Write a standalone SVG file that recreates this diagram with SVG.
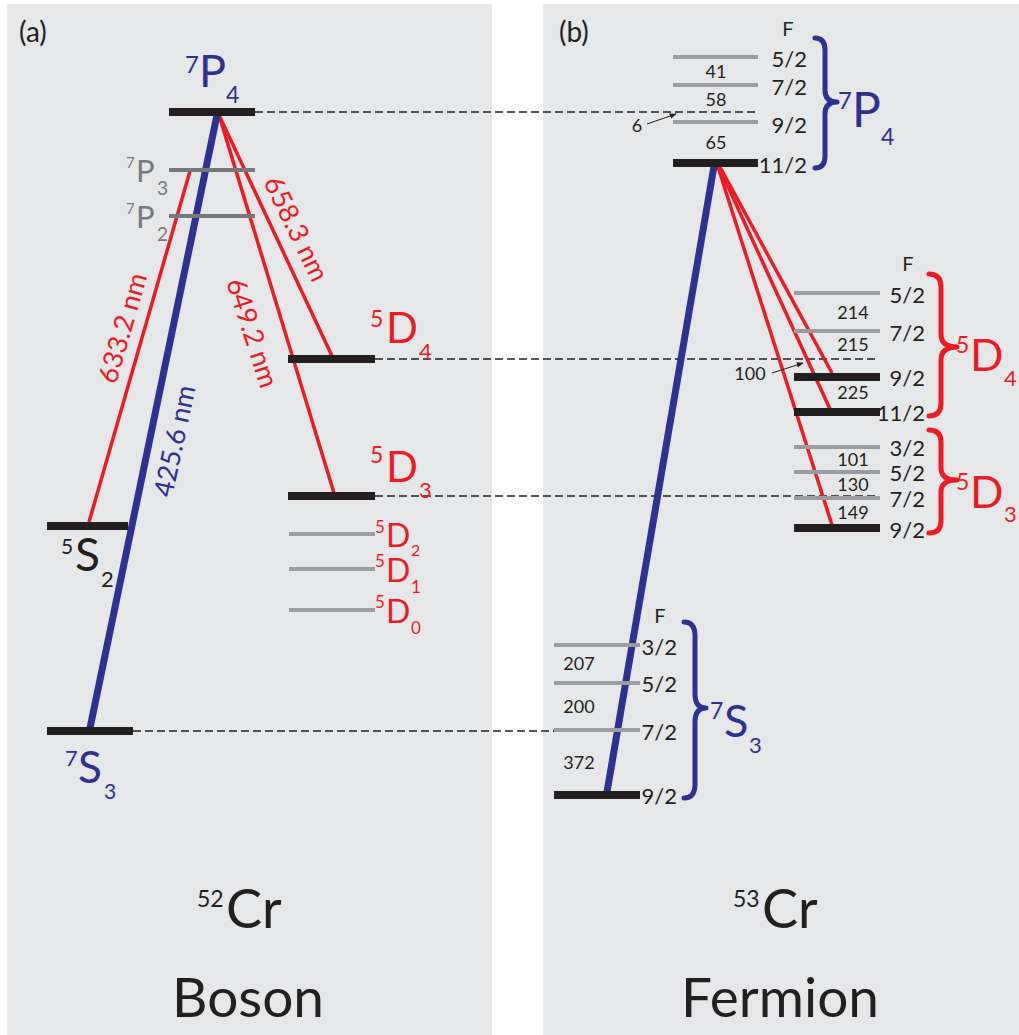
<svg xmlns="http://www.w3.org/2000/svg" width="1019" height="1035" viewBox="0 0 1019 1035">
<defs>
<style>
text{font-family:Lato,"Liberation Sans",sans-serif;}
.bk{fill:#231f20;}
.bl{fill:#2e3192;}
.rd{fill:#ed1c24;}
.gy{fill:#77787b;}
.lvl{fill:#231f20;}
.g1{stroke:#77787b;stroke-width:4;}
.g2{stroke:#9a9c9f;stroke-width:4;}
.dash{stroke:#231f20;stroke-width:1.3;stroke-dasharray:8,4;fill:none;}
.red{stroke:#ed1c24;stroke-width:3.5;fill:none;}
.blue{stroke:#2e3192;stroke-width:7;fill:none;}
.brb{stroke:#2e3192;stroke-width:5;fill:none;stroke-linecap:round;stroke-linejoin:round;}
.brr{stroke:#ed1c24;stroke-width:5;fill:none;stroke-linecap:round;stroke-linejoin:round;}
.ar{stroke:#231f20;stroke-width:1;fill:none;}
.n17{font-size:18px;fill:#231f20;text-anchor:middle;}
.f22{font-size:22px;fill:#231f20;text-anchor:end;}
.F{font-size:20px;fill:#231f20;text-anchor:middle;}
.wl{font-size:27px;text-anchor:middle;}
</style>
<marker id="ah" viewBox="0 0 10 10" refX="9" refY="5" markerWidth="7" markerHeight="7" orient="auto" markerUnits="userSpaceOnUse">
<path d="M0,1 L10,5 L0,9 Z" fill="#231f20"/>
</marker>
</defs>
<rect width="1019" height="1035" fill="#ffffff"/>
<rect x="7" y="4" width="485" height="1031" fill="#e6e7e8"/>
<rect x="543" y="4" width="476" height="1031" fill="#e6e7e8"/>

<text x="19" y="42" font-size="28" class="bk">(a)</text>
<text x="559" y="42" font-size="28" class="bk">(b)</text>

<g id="connectors">
<line class="dash" x1="255" y1="112" x2="758" y2="112"/>
<line class="dash" x1="375" y1="359" x2="877" y2="359"/>
<line class="dash" x1="375" y1="496" x2="877" y2="496"/>
<line class="dash" x1="133" y1="731" x2="554" y2="731"/>
<line class="red" x1="190" y1="171" x2="89" y2="522"/>
<line class="red" x1="219" y1="115" x2="332" y2="356"/>
<line class="red" x1="219" y1="115" x2="334" y2="493"/>
<line class="blue" x1="217" y1="115" x2="90" y2="728"/>
<line class="red" x1="720" y1="167" x2="832" y2="373"/>
<line class="red" x1="719" y1="167" x2="830" y2="409"/>
<line class="red" x1="718" y1="167" x2="832" y2="525"/>
<line class="blue" x1="714" y1="166" x2="607" y2="792"/>
<line class="ar" x1="647" y1="124" x2="676" y2="114" marker-end="url(#ah)"/>
<line class="ar" x1="772" y1="373" x2="803" y2="363" marker-end="url(#ah)"/>
</g>

<g id="wavelengths">
<text class="wl rd" transform="translate(123,328) rotate(-74)" y="9">633.2 nm</text>
<text class="wl bl" transform="translate(175,441) rotate(-78)" y="9">425.6 nm</text>
<text class="wl rd" transform="translate(252,333) rotate(72)" y="9">649.2 nm</text>
<text class="wl rd" transform="translate(296,229) rotate(64)" y="9">658.3 nm</text>
</g>

<g id="boson-7P4">
<rect class="lvl" x="169" y="108" width="86" height="8"/>
<text class="bl"><tspan x="185" y="73" font-size="24">7</tspan><tspan x="199" y="87" font-size="45">P</tspan><tspan x="226" y="103" font-size="23">4</tspan></text>
</g>
<g id="boson-7P3">
<line class="g1" x1="169" y1="170" x2="255" y2="170"/>
<text class="gy"><tspan x="126" y="168" font-size="15">7</tspan><tspan x="136" y="182" font-size="31">P</tspan><tspan x="157" y="195" font-size="19">3</tspan></text>
</g>
<g id="boson-7P2">
<line class="g1" x1="169" y1="216" x2="255" y2="216"/>
<text class="gy"><tspan x="126" y="214" font-size="15">7</tspan><tspan x="136" y="228" font-size="31">P</tspan><tspan x="157" y="241" font-size="19">2</tspan></text>
</g>
<g id="boson-5D4">
<rect class="lvl" x="288" y="355" width="87" height="8"/>
<text class="rd"><tspan x="370" y="327" font-size="23">5</tspan><tspan x="386" y="343" font-size="42">D</tspan><tspan x="419" y="359" font-size="22">4</tspan></text>
</g>
<g id="boson-5D3">
<rect class="lvl" x="288" y="492" width="87" height="8"/>
<text class="rd"><tspan x="370" y="463" font-size="23">5</tspan><tspan x="386" y="482" font-size="42">D</tspan><tspan x="419" y="498" font-size="22">3</tspan></text>
</g>
<g id="boson-5D2">
<line class="g2" x1="289" y1="534" x2="375" y2="534"/>
<text class="rd"><tspan x="375" y="533" font-size="17">5</tspan><tspan x="386" y="547" font-size="32">D</tspan><tspan x="411" y="556" font-size="16">2</tspan></text>
</g>
<g id="boson-5D1">
<line class="g2" x1="289" y1="569" x2="375" y2="569"/>
<text class="rd"><tspan x="375" y="567" font-size="17">5</tspan><tspan x="386" y="582" font-size="32">D</tspan><tspan x="411" y="593" font-size="17">1</tspan></text>
</g>
<g id="boson-5D0">
<line class="g2" x1="289" y1="610" x2="375" y2="610"/>
<text class="rd"><tspan x="375" y="608" font-size="17">5</tspan><tspan x="386" y="623" font-size="32">D</tspan><tspan x="411" y="634" font-size="17">0</tspan></text>
</g>
<g id="boson-5S2">
<rect class="lvl" x="47" y="522" width="81" height="8"/>
<text class="bk"><tspan x="61" y="554" font-size="21">5</tspan><tspan x="75" y="571" font-size="46">S</tspan><tspan x="101" y="587" font-size="22">2</tspan></text>
</g>
<g id="boson-7S3">
<rect class="lvl" x="47" y="727" width="86" height="8"/>
<text class="bl"><tspan x="65" y="766" font-size="22">7</tspan><tspan x="78" y="783" font-size="44">S</tspan><tspan x="104" y="799" font-size="21">3</tspan></text>
</g>
<g id="boson-title">
<text class="bk"><tspan x="197" y="907" font-size="23">52</tspan><tspan x="226" y="928" font-size="54">Cr</tspan></text>
<text class="bk" x="248" y="1017" font-size="55" text-anchor="middle">Boson</text>
</g>

<g id="fermion-7P4">
<line class="g2" x1="673" y1="57" x2="758" y2="57"/>
<line class="g2" x1="673" y1="85" x2="758" y2="85"/>
<line class="g2" x1="673" y1="122" x2="758" y2="122"/>
<rect class="lvl" x="673" y="159" width="85" height="8"/>
<text class="F" x="788" y="36">F</text>
<text class="f22" x="807" y="67">5/2</text>
<text class="f22" x="807" y="95">7/2</text>
<text class="f22" x="807" y="133">9/2</text>
<text class="f22" x="807" y="173">11/2</text>
<text class="n17" x="716" y="78">41</text>
<text class="n17" x="716" y="106">58</text>
<text class="n17" x="716" y="149">65</text>
<text class="n17" x="637" y="132">6</text>
<path class="brb" d="M815,38 Q825,38 825,50 L825,90 Q825,102 837,102 Q825,102 825,114 L825,156 Q825,168 815,168"/>
<text class="bl"><tspan x="838" y="109" font-size="24">7</tspan><tspan x="852" y="127" font-size="48">P</tspan><tspan x="881" y="145" font-size="23">4</tspan></text>
</g>

<g id="fermion-5D4">
<line class="g2" x1="794" y1="293" x2="880" y2="293"/>
<line class="g2" x1="794" y1="331" x2="880" y2="331"/>
<rect class="lvl" x="794" y="373" width="86" height="8"/>
<rect class="lvl" x="794" y="408" width="86" height="8"/>
<text class="F" x="908" y="271">F</text>
<text class="f22" x="925" y="303">5/2</text>
<text class="f22" x="925" y="341">7/2</text>
<text class="f22" x="925" y="386">9/2</text>
<text class="f22" x="925" y="421">11/2</text>
<text class="n17" x="853" y="319">214</text>
<text class="n17" x="853" y="351">215</text>
<text class="n17" x="853" y="399">225</text>
<text class="n17" x="750" y="380">100</text>
<path class="brr" d="M929,274 Q941,274 941,287 L941,334 Q941,347 957,347 Q941,347 941,360 L941,403 Q941,416 929,416"/>
<text class="rd"><tspan x="956" y="353" font-size="23">5</tspan><tspan x="970" y="371" font-size="44">D</tspan><tspan x="1004" y="386" font-size="22">4</tspan></text>
</g>

<g id="fermion-5D3">
<line class="g2" x1="794" y1="447" x2="880" y2="447"/>
<line class="g2" x1="794" y1="472" x2="880" y2="472"/>
<line class="g2" x1="794" y1="498" x2="880" y2="498"/>
<rect class="lvl" x="794" y="524" width="86" height="8"/>
<text class="f22" x="925" y="456">3/2</text>
<text class="f22" x="925" y="481">5/2</text>
<text class="f22" x="925" y="507">7/2</text>
<text class="f22" x="925" y="538">9/2</text>
<text class="n17" x="853" y="466">101</text>
<text class="n17" x="853" y="491">130</text>
<text class="n17" x="853" y="519">149</text>
<path class="brr" d="M929,430 Q941,430 941,442 L941,468 Q941,480 957,480 Q941,480 941,492 L941,521 Q941,533 929,533"/>
<text class="rd"><tspan x="956" y="490" font-size="23">5</tspan><tspan x="970" y="508" font-size="44">D</tspan><tspan x="1004" y="522" font-size="22">3</tspan></text>
</g>

<g id="fermion-7S3">
<line class="g2" x1="554" y1="645" x2="640" y2="645"/>
<line class="g2" x1="554" y1="683" x2="640" y2="683"/>
<line class="g2" x1="554" y1="730" x2="640" y2="730"/>
<rect class="lvl" x="554" y="791" width="86" height="8"/>
<text class="F" x="660" y="623">F</text>
<text class="f22" x="677" y="655">3/2</text>
<text class="f22" x="677" y="692">5/2</text>
<text class="f22" x="677" y="740">7/2</text>
<text class="f22" x="677" y="804">9/2</text>
<text class="n17" x="579" y="670">207</text>
<text class="n17" x="579" y="713">200</text>
<text class="n17" x="579" y="769">372</text>
<path class="brb" d="M684,622 Q695,622 695,636 L695,694 Q695,708 706,708 Q695,708 695,722 L695,784 Q695,798 684,798"/>
<text class="bl"><tspan x="710" y="719" font-size="23">7</tspan><tspan x="724" y="737" font-size="45">S</tspan><tspan x="749" y="753" font-size="22">3</tspan></text>
</g>

<g id="fermion-title">
<text class="bk"><tspan x="733" y="907" font-size="23">53</tspan><tspan x="762" y="928" font-size="54">Cr</tspan></text>
<text class="bk" x="780" y="1017" font-size="55" text-anchor="middle">Fermion</text>
</g>
</svg>
